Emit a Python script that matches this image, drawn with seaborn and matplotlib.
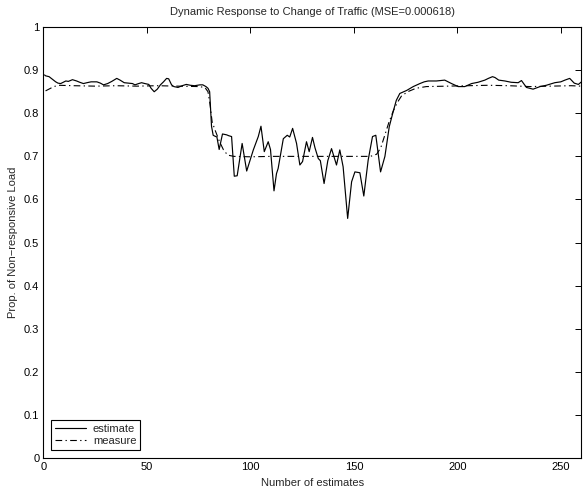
import matplotlib
matplotlib.use("Agg")
import matplotlib.pyplot as plt
import seaborn as sns
import pandas as pd

est_x = [0.5, 1, 2.7, 4, 5.9, 7, 8.3, 9.5, 10.8, 12, 14, 16, 17.5, 19.3, 21, 23, 25.8, 27.5, 29, 31,
         33, 35.4, 37, 39, 41, 43, 44.2, 46, 47.4, 49, 50.9, 52, 53.5, 55, 56.5, 58, 59.5, 60.5, 61.9, 63,
         65, 67, 69, 71, 73, 75.6, 77, 78.5, 79.5, 80.3, 81.2, 82, 82.8, 83.8, 84.9, 86.5, 88.5, 89.5, 90.9, 92.2,
         93.6, 96, 98.2, 101.4, 103.8, 105.1, 106.7, 108.6, 109.7, 111.4, 112.6, 113.4, 115.9, 117.8, 119, 120.4, 122.3, 123.9, 125.2, 127.1,
         128.4, 130, 131.2, 132.8, 133.8, 135.6, 137.4, 139.2, 141.6, 143.2, 144.8, 147, 148.9, 150.5, 152.9, 154.8, 156.9, 159,
         160.6, 162.9, 165, 167.1, 169, 170.5, 172.2, 175.5, 178.7, 181.9, 184, 185.9, 189.9, 193.9, 197.2, 200.4, 203.6, 206.9,
         210, 213.3, 215, 217, 218.2, 220, 223, 226, 229.4, 231, 233.4, 236.6, 240, 243, 245, 247.1, 250, 252,
         254.3, 256.5, 258.5, 260]
est_y = [0.889, 0.887, 0.885, 0.880, 0.873, 0.870, 0.869, 0.872, 0.875, 0.874, 0.878, 0.875, 0.872, 0.869, 0.871, 0.873, 0.873, 0.870, 0.866, 0.869,
         0.874, 0.881, 0.877, 0.871, 0.870, 0.869, 0.866, 0.869, 0.871, 0.869, 0.867, 0.858, 0.850, 0.856, 0.866, 0.873, 0.881, 0.880, 0.866, 0.862,
         0.860, 0.864, 0.867, 0.865, 0.864, 0.866, 0.866, 0.862, 0.858, 0.850, 0.770, 0.749, 0.747, 0.745, 0.716, 0.752, 0.750, 0.748, 0.746, 0.654,
         0.655, 0.730, 0.666, 0.715, 0.746, 0.770, 0.711, 0.734, 0.716, 0.620, 0.660, 0.672, 0.741, 0.749, 0.745, 0.765, 0.730, 0.680, 0.688, 0.734,
         0.711, 0.744, 0.720, 0.695, 0.690, 0.637, 0.690, 0.718, 0.680, 0.715, 0.676, 0.556, 0.641, 0.664, 0.662, 0.608, 0.691, 0.746,
         0.749, 0.664, 0.700, 0.769, 0.804, 0.830, 0.846, 0.853, 0.862, 0.869, 0.873, 0.875, 0.875, 0.877, 0.869, 0.862, 0.862, 0.869,
         0.872, 0.877, 0.881, 0.885, 0.883, 0.877, 0.875, 0.872, 0.871, 0.876, 0.860, 0.856, 0.862, 0.865, 0.868, 0.871, 0.873, 0.877,
         0.881, 0.870, 0.867, 0.873]

meas_x = [1, 3, 5, 7.3, 15, 25, 35, 45, 55, 65, 75, 78, 79.5, 80.5, 81.5, 83, 85, 87, 89, 92,
          100, 110, 120, 130, 140, 150, 158, 161, 163, 165, 167, 169, 171, 173, 176, 180, 185, 195, 205, 215,
          225, 235, 245, 255, 260]
meas_y = [0.852, 0.857, 0.862, 0.865, 0.864, 0.863, 0.864, 0.863, 0.864, 0.863, 0.862, 0.860, 0.850, 0.820, 0.780, 0.760, 0.735, 0.715, 0.703, 0.700,
          0.699, 0.700, 0.700, 0.700, 0.700, 0.700, 0.700, 0.705, 0.720, 0.750, 0.780, 0.805, 0.825, 0.840, 0.850, 0.858, 0.862, 0.863, 0.864, 0.865,
          0.864, 0.862, 0.863, 0.864, 0.863]

x_ticks = [0, 50, 100, 150, 200, 250]
y_ticks = [0, 0.1, 0.2, 0.3, 0.4, 0.5, 0.6, 0.7, 0.8, 0.9, 1]
y_tick_labels = ["0", "0.1", "0.2", "0.3", "0.4", "0.5", "0.6", "0.7", "0.8", "0.9", "1"]

sns.set_style("white")
plt.rcParams['font.family'] = ['Liberation Sans', 'DejaVu Sans']

est_df = pd.DataFrame({"x": est_x, "y": est_y})
meas_df = pd.DataFrame({"x": meas_x, "y": meas_y})

fig = plt.figure(figsize=(5.87, 4.93), dpi=100)
ax = fig.add_axes([0.0741, 0.071, 0.9165, 0.874])

sns.lineplot(data=est_df, x="x", y="y", ax=ax, color="black", linewidth=0.85,
             estimator=None, sort=False, label="estimate")
sns.lineplot(data=meas_df, x="x", y="y", ax=ax, color="black", linewidth=0.8,
             estimator=None, sort=False, label="measure", linestyle=(0, (6, 3, 1.2, 3)))

ax.set_xlim(0, 260)
ax.set_ylim(0, 1)
ax.set_xticks(x_ticks)
ax.set_yticks(y_ticks)
ax.set_yticklabels(y_tick_labels)
ax.tick_params(direction="in", length=4, width=0.7, top=True, right=True,
               labelsize=8, colors="black", pad=3)
for s in ax.spines.values():
    s.set_visible(True)
    s.set_color("black")
    s.set_linewidth(0.8)

ax.set_title("Dynamic Response to Change of Traffic (MSE=0.000618)", fontsize=8, pad=9)
ax.set_xlabel("Number of estimates", fontsize=8, labelpad=4)
ax.set_ylabel("Prop. of Non\u2212responsive Load", fontsize=8, labelpad=4)

leg = ax.legend(loc="lower left", fontsize=8, frameon=True, fancybox=False,
                edgecolor="black", framealpha=1, borderpad=0.35, handlelength=2.8,
                labelspacing=0.25, borderaxespad=0.7, handletextpad=0.6)
leg.get_frame().set_linewidth(0.8)

fig.savefig("out.png", dpi=100)
